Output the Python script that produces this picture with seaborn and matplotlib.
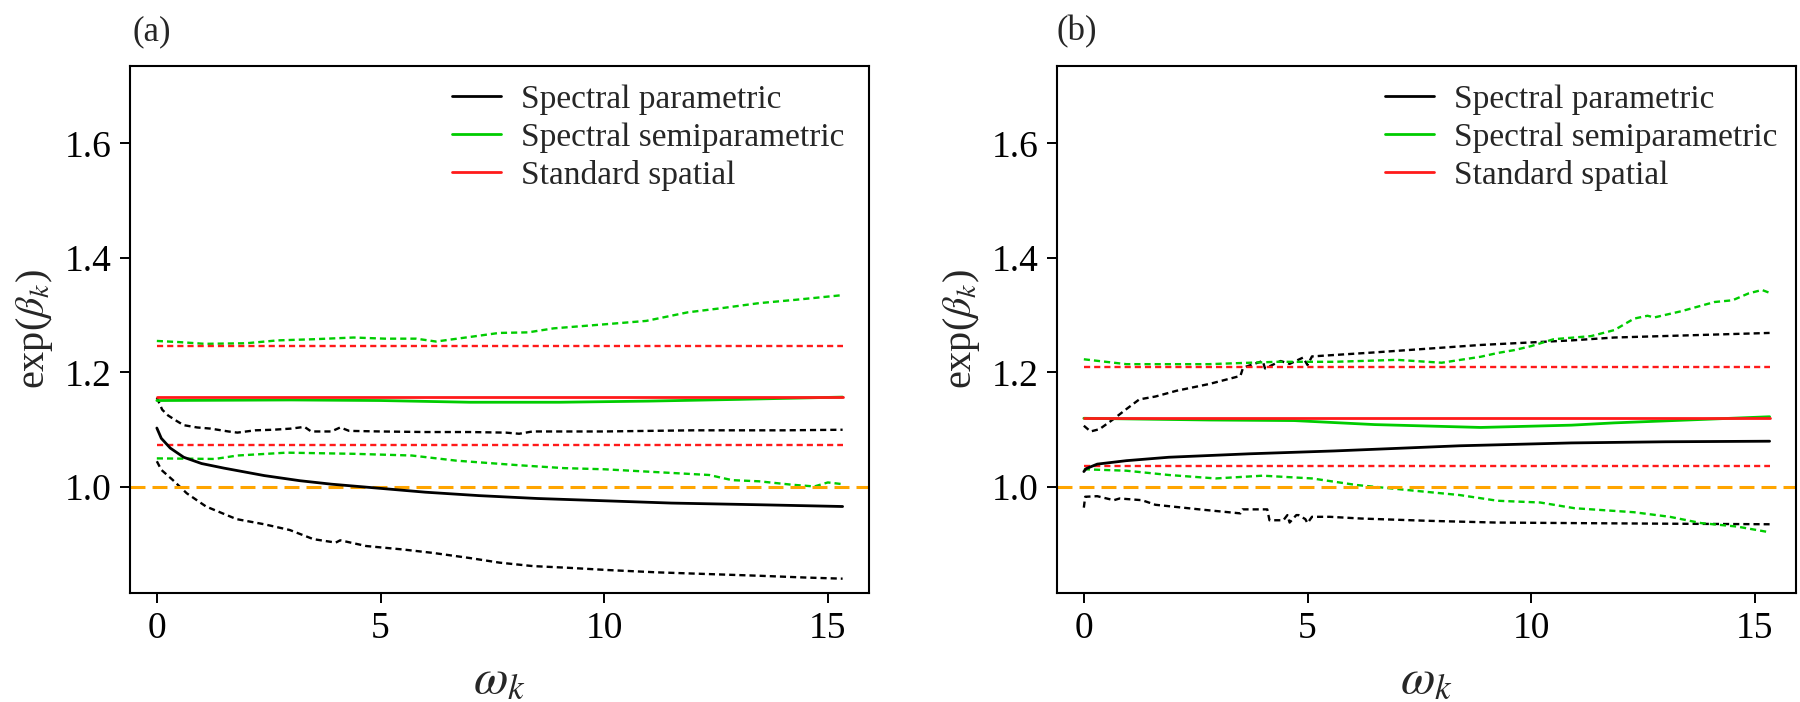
import numpy as np
import pandas as pd
import seaborn as sns
import matplotlib.pyplot as plt

# ---- panel (a) values ----
a_par_x = [0, 0.1, 0.3, 0.6, 1.0, 1.5, 2.4, 3.2, 3.9, 4.8, 6.0, 7.2, 8.5, 10, 11.5, 13.5, 15.33]
a_par_y = [1.103, 1.085, 1.068, 1.052, 1.041, 1.033, 1.020, 1.011, 1.005, 0.999, 0.991, 0.985, 0.980, 0.976, 0.972, 0.969, 0.966]
a_par_hi_x = [0, 0.12, 0.25, 0.45, 0.6, 0.9, 1.2, 1.6, 1.8, 2.2, 2.6, 3.0, 3.3, 3.45, 3.9, 4.1, 4.3, 5, 6, 7, 7.8, 8.1, 8.4, 9, 10, 11, 12, 13, 14, 15.33]
a_par_hi_y = [1.156, 1.135, 1.125, 1.115, 1.108, 1.104, 1.102, 1.097, 1.095, 1.099, 1.100, 1.102, 1.105, 1.097, 1.097, 1.104, 1.098, 1.097, 1.096, 1.096, 1.095, 1.093, 1.097, 1.097, 1.097, 1.098, 1.099, 1.099, 1.099, 1.100]
a_par_lo_x = [0, 0.1, 0.36, 0.67, 1.1, 1.78, 2.4, 2.97, 3.5, 4.0, 4.1, 4.68, 5.5, 6.17, 7.0, 7.66, 8.4, 9.2, 10.1, 11.2, 12.35, 13.5, 14.5, 15.33]
a_par_lo_y = [1.045, 1.03, 1.012, 0.989, 0.966, 0.944, 0.935, 0.925, 0.909, 0.903, 0.907, 0.897, 0.891, 0.885, 0.876, 0.868, 0.862, 0.859, 0.855, 0.851, 0.848, 0.845, 0.842, 0.840]
a_semi_x = [0, 3, 5, 7, 9, 11, 13, 15.33]
a_semi_y = [1.151, 1.152, 1.151, 1.148, 1.148, 1.150, 1.153, 1.157]
a_semi_hi_x = [0, 0.5, 1.07, 2.0, 2.7, 3.5, 4.4, 5.1, 5.8, 6.24, 7.0, 7.65, 8.3, 8.87, 10.0, 10.94, 11.87, 12.6, 13.46, 14.3, 15.33]
a_semi_hi_y = [1.255, 1.253, 1.250, 1.251, 1.256, 1.258, 1.261, 1.259, 1.259, 1.254, 1.262, 1.269, 1.270, 1.277, 1.284, 1.290, 1.305, 1.312, 1.321, 1.327, 1.335]
a_semi_lo_x = [0, 1.3, 1.8, 2.9, 4.4, 5.7, 6.7, 8.1, 9.1, 10.0, 10.94, 12.35, 12.86, 13.46, 14.2, 14.7, 15.0, 15.33]
a_semi_lo_y = [1.050, 1.049, 1.055, 1.060, 1.058, 1.055, 1.046, 1.038, 1.033, 1.031, 1.027, 1.021, 1.012, 1.010, 1.004, 1.001, 1.008, 1.005]
a_std = [1.158, 1.246, 1.074]  # estimate, upper, lower

# ---- panel (b) ----
b_par_x = [0, 0.05, 0.3, 0.95, 1.9, 3.7, 5.6, 8.4, 10.9, 13, 15.33]
b_par_y = [1.027, 1.032, 1.040, 1.046, 1.052, 1.058, 1.063, 1.072, 1.077, 1.079, 1.080]
b_par_hi_x = [0, 0.15, 0.35, 0.67, 0.95, 1.24, 1.6, 2.07, 2.81, 3.5, 3.55, 3.62, 4.0, 4.05, 4.4, 4.6, 4.9, 5.0, 5.1, 6.5, 8.87, 10.9, 11.86, 15.33]
b_par_hi_y = [1.107, 1.097, 1.101, 1.119, 1.136, 1.153, 1.158, 1.168, 1.180, 1.194, 1.206, 1.210, 1.220, 1.207, 1.220, 1.215, 1.226, 1.213, 1.228, 1.235, 1.248, 1.256, 1.261, 1.269]
b_par_lo_x = [0, 0.03, 0.3, 0.67, 0.8, 1.3, 1.6, 2.58, 3.5, 3.55, 4.1, 4.15, 4.46, 4.55, 4.6, 4.75, 4.8, 4.95, 5.0, 5.1, 5.5, 6.2, 7.7, 9.2, 11, 13, 15.33]
b_par_lo_y = [0.964, 0.983, 0.984, 0.977, 0.980, 0.977, 0.969, 0.961, 0.954, 0.961, 0.961, 0.942, 0.942, 0.951, 0.938, 0.951, 0.951, 0.944, 0.937, 0.948, 0.948, 0.945, 0.941, 0.938, 0.937, 0.936, 0.935]
b_semi_x = [0, 2.8, 4.7, 6.5, 8.4, 8.87, 10.9, 11.86, 13.5, 15.33]
b_semi_y = [1.120, 1.117, 1.116, 1.109, 1.105, 1.104, 1.108, 1.112, 1.117, 1.1227]
b_semi_hi_x = [0, 0.95, 2.8, 4.3, 5.6, 7.0, 8.0, 8.87, 9.25, 9.62, 10.0, 10.5, 11.34, 11.86, 12.3, 12.6, 12.75, 13.36, 14.1, 14.5, 14.86, 15.16, 15.33]
b_semi_hi_y = [1.223, 1.2145, 1.2145, 1.2186, 1.2186, 1.222, 1.217, 1.2274, 1.234, 1.239, 1.246, 1.258, 1.2635, 1.274, 1.294, 1.299, 1.296, 1.307, 1.323, 1.326, 1.338, 1.344, 1.339]
b_semi_lo_x = [0, 0.95, 1.9, 2.95, 4.0, 5.1, 6.1, 7.07, 8.4, 9.25, 10.2, 10.97, 12.3, 13.1, 13.8, 14.6, 15.33]
b_semi_lo_y = [1.031, 1.0285, 1.021, 1.015, 1.0198, 1.015, 1.0035, 0.996, 0.986, 0.976, 0.973, 0.963, 0.956, 0.948, 0.937, 0.931, 0.921]
b_std = [1.120, 1.209, 1.037]

x_span = [0, 15.33]
legend_labels = ["Spectral parametric", "Spectral semiparametric", "Standard spatial"]

BLACK = "black"
GREEN = "#00CC00"
RED = "#FF1A1A"
ORANGE = "#FFA500"
DOT = (0, (2.6, 1.7))

sns.set_theme(style="white")
plt.rcParams["font.family"] = ["Liberation Serif", "DejaVu Serif"]
plt.rcParams["mathtext.fontset"] = "stix"

fig = plt.figure(figsize=(18, 7.02), dpi=100)
ax_a = fig.add_axes([130 / 1800, 1 - 593 / 702, 739 / 1800, 527 / 702])
ax_b = fig.add_axes([1057 / 1800, 1 - 593 / 702, 739 / 1800, 527 / 702])


def draw(ax, par, par_hi, par_lo, semi, semi_hi, semi_lo, std, leg_x):
    for (xs, ys) in [par_hi, par_lo]:
        sns.lineplot(x=xs, y=ys, ax=ax, color=BLACK, lw=1.7, linestyle=DOT, sort=False)
    for (xs, ys) in [semi_hi, semi_lo]:
        sns.lineplot(x=xs, y=ys, ax=ax, color=GREEN, lw=1.7, linestyle=DOT, sort=False)
    for v in std[1:]:
        sns.lineplot(x=x_span, y=[v, v], ax=ax, color=RED, lw=1.7, linestyle=DOT)
    ax.axhline(1.0, color=ORANGE, lw=2.2, linestyle=(0, (4.9, 2.3)))
    sns.lineplot(x=semi[0], y=semi[1], ax=ax, color=GREEN, lw=2.0, sort=False, label=legend_labels[1])
    sns.lineplot(x=x_span, y=[std[0], std[0]], ax=ax, color=RED, lw=2.0, label=legend_labels[2])
    sns.lineplot(x=par[0], y=par[1], ax=ax, color=BLACK, lw=2.0, sort=False, label=legend_labels[0])

    ax.set_xlim(-0.6, 15.92)
    ax.set_ylim(0.815, 1.735)
    ax.set_xticks([0, 5, 10, 15])
    ax.set_yticks([1.0, 1.2, 1.4, 1.6])
    ax.set_yticklabels(["1.0", "1.2", "1.4", "1.6"])
    ax.tick_params(axis="both", which="major", labelsize=27, length=7, width=1.4,
                   direction="out", pad=6, bottom=True, left=True, colors="black")
    for s in ax.spines.values():
        s.set_color("black")
        s.set_linewidth(1.5)
    ax.set_xlabel(r"$\omega_k$", fontsize=36, labelpad=8)
    ax.set_ylabel(r"exp($\beta_k$)", fontsize=29, labelpad=7)

    h, l = ax.get_legend_handles_labels()
    order = [l.index(name) for name in legend_labels]
    ax.legend([h[i] for i in order], [l[i] for i in order], loc="upper left",
              bbox_to_anchor=(leg_x, 0.965), frameon=False, fontsize=24,
              handlelength=1.47, handletextpad=0.6, labelspacing=0.22, borderpad=0,
              borderaxespad=0)


draw(ax_a, (a_par_x, a_par_y), (a_par_hi_x, a_par_hi_y), (a_par_lo_x, a_par_lo_y),
     (a_semi_x, a_semi_y), (a_semi_hi_x, a_semi_hi_y), (a_semi_lo_x, a_semi_lo_y), a_std, 0.436)
draw(ax_b, (b_par_x, b_par_y), (b_par_hi_x, b_par_hi_y), (b_par_lo_x, b_par_lo_y),
     (b_semi_x, b_semi_y), (b_semi_hi_x, b_semi_hi_y), (b_semi_lo_x, b_semi_lo_y), b_std, 0.444)

fig.text(132 / 1800, 1 - 32 / 702, "(a)", fontsize=25, va="center", ha="left")
fig.text(1056 / 1800, 1 - 32 / 702, "(b)", fontsize=25, va="center", ha="left")

fig.savefig("out.png", dpi=100, facecolor="white")
